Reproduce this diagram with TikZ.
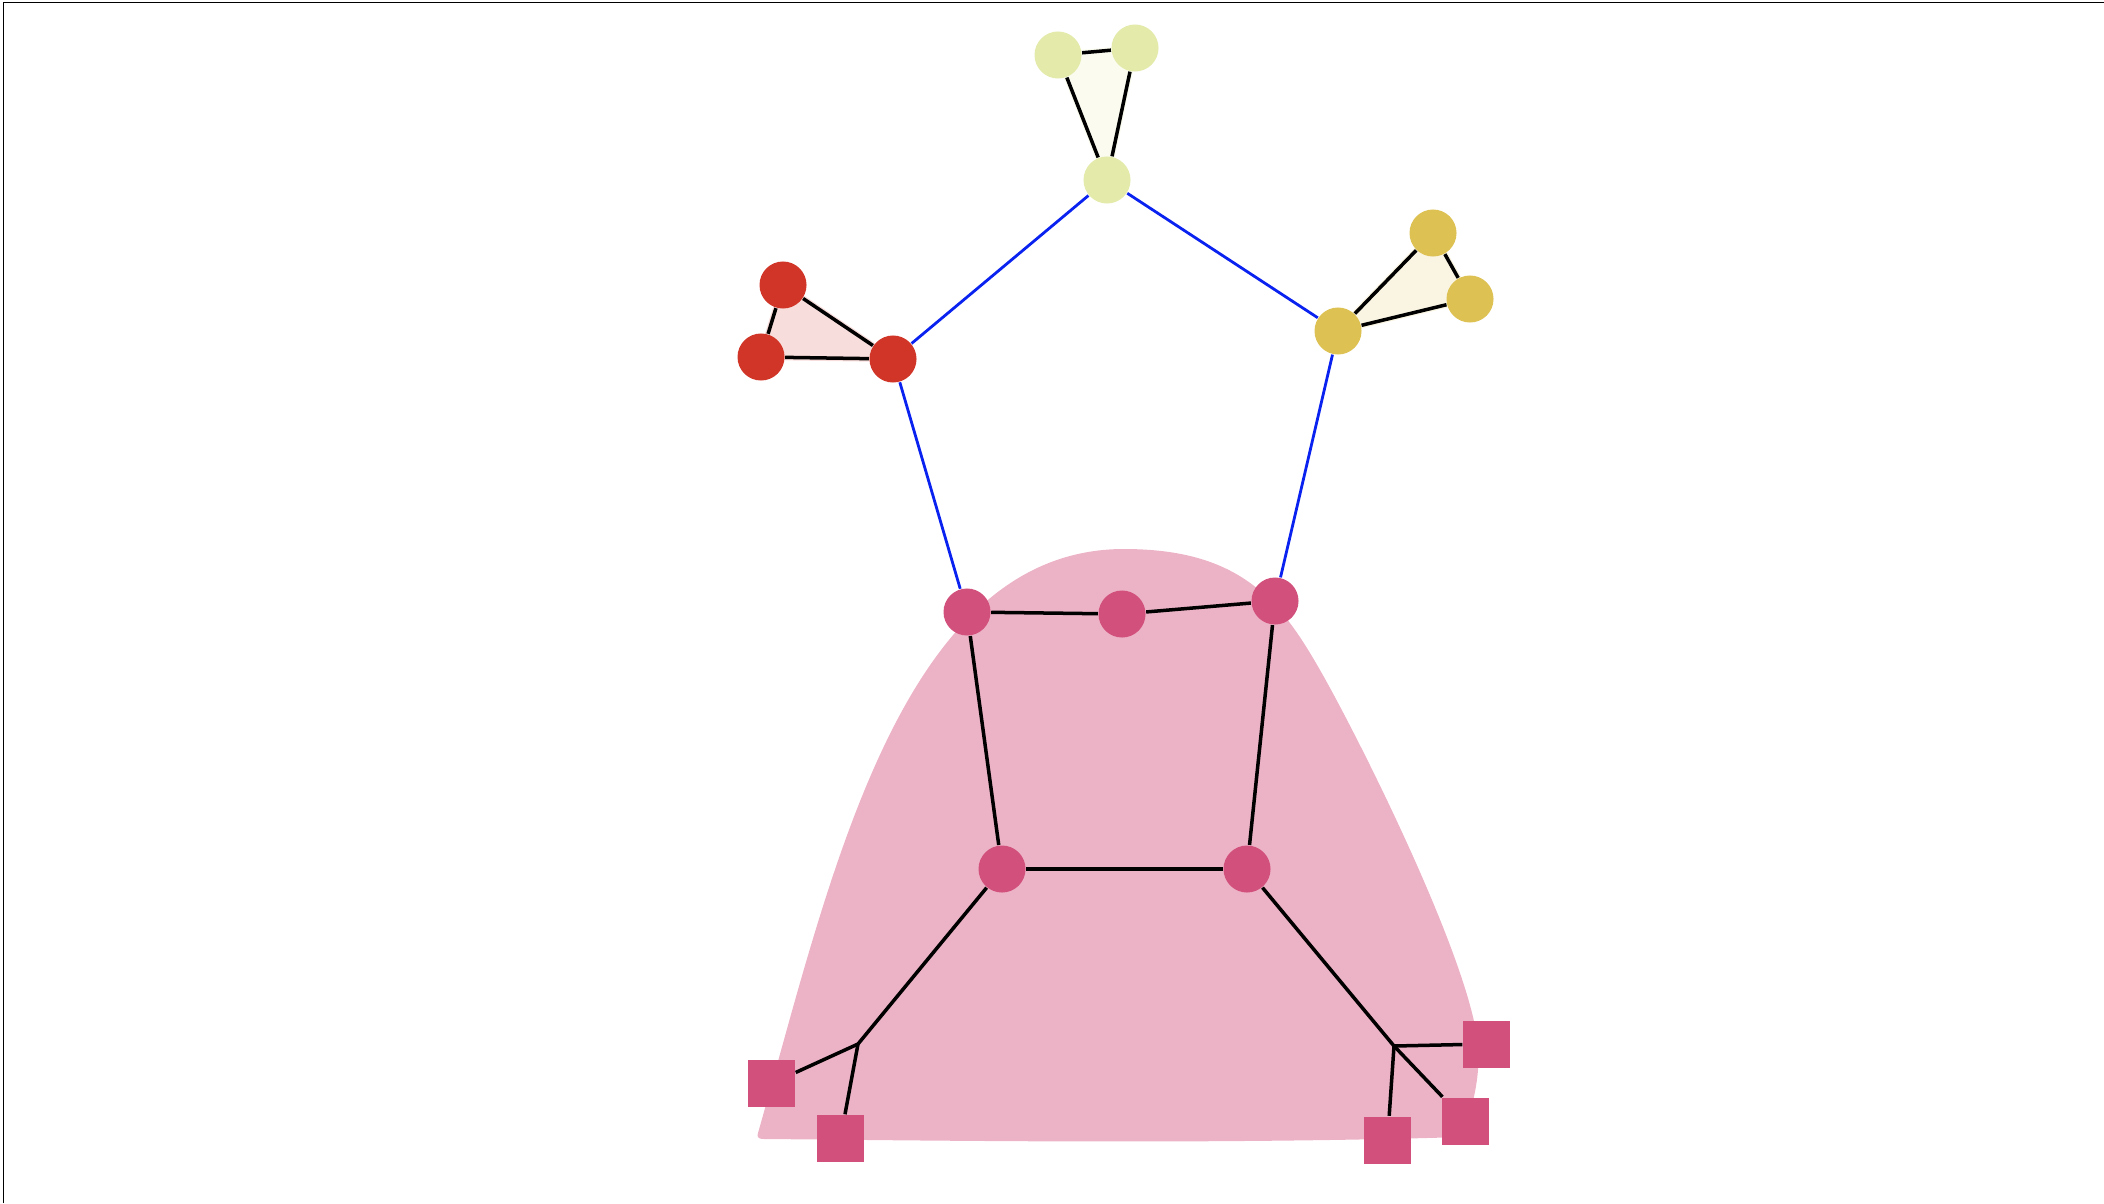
\documentclass[tikz,border=0pt]{standalone}
\begin{document}
\begin{tikzpicture}[x=0.01cm,y=-0.01cm,
  dot/.style={circle,inner sep=0pt,minimum size=0.47cm,draw=none},
  sqr/.style={rectangle,inner sep=0pt,minimum size=0.47cm,fill=pinkN,draw=none},
  blk/.style={draw=black,line width=0.035cm},
  blu/.style={draw=blueL,line width=0.028cm},
  hull/.style={line width=0.06cm,line join=round}]
\definecolor{ygN}{HTML}{E3EAAA}
\definecolor{ygF}{HTML}{FBFCEF}
\definecolor{redN}{HTML}{D13527}
\definecolor{redF}{HTML}{F7DDDB}
\definecolor{goldN}{HTML}{DDC153}
\definecolor{goldF}{HTML}{FAF5E2}
\definecolor{pinkN}{HTML}{D2517C}
\definecolor{blobC}{HTML}{ECB2C5}
\definecolor{blueL}{HTML}{0A22F0}
\useasboundingbox (0,0) rectangle (2104,1203);
\draw[line width=0.015cm] (3.5,1203) -- (3.5,2.5) -- (2104,2.5);
% blob
\fill[blobC] (758,1133) .. controls (830,880) and (900,549) .. (1124,549)
  .. controls (1240,549) and (1280,600) .. (1320,670)
  .. controls (1360,740) and (1470,960) .. (1478,1045)
  .. controls (1481,1080) and (1470,1115) .. (1462,1137)
  .. controls (1200,1145) and (900,1140) .. (764,1139)
  .. controls (757,1139) and (757,1136) .. (758,1133) -- cycle;
% coordinates of nodes
\coordinate (ya) at (1058,55);
\coordinate (yb) at (1135,48);
\coordinate (yc) at (1107,180);
\coordinate (ra) at (783,285);
\coordinate (rb) at (761,357);
\coordinate (rc) at (893,359);
\coordinate (ga) at (1433,233);
\coordinate (gb) at (1470,299);
\coordinate (gc) at (1338,331);
% hull fills
\filldraw[fill=ygF,draw=ygF,hull] (ya) -- (yb) -- (yc) -- cycle;
\filldraw[fill=redF,draw=redF,hull] (ra) -- (rb) -- (rc) -- cycle;
\filldraw[fill=goldF,draw=goldF,hull] (ga) -- (gb) -- (gc) -- cycle;
% nodes
\node[dot,fill=ygN] (Y1) at (ya) {};
\node[dot,fill=ygN] (Y2) at (yb) {};
\node[dot,fill=ygN] (Y3) at (yc) {};
\node[dot,fill=redN] (R1) at (ra) {};
\node[dot,fill=redN] (R2) at (rb) {};
\node[dot,fill=redN] (R3) at (rc) {};
\node[dot,fill=goldN] (G1) at (ga) {};
\node[dot,fill=goldN] (G2) at (gb) {};
\node[dot,fill=goldN] (G3) at (gc) {};
\node[dot,fill=pinkN] (P1) at (967,612) {};
\node[dot,fill=pinkN] (P2) at (1122,614) {};
\node[dot,fill=pinkN] (P3) at (1275,601) {};
\node[dot,fill=pinkN] (P4) at (1002,869) {};
\node[dot,fill=pinkN] (P5) at (1247,869) {};
\coordinate (JL) at (858,1044);
\coordinate (JR) at (1394,1046);
\node[sqr] (S1) at (771.5,1083.5) {};
\node[sqr] (S2) at (840.5,1138.5) {};
\node[sqr] (S3) at (1486.5,1044) {};
\node[sqr] (S4) at (1465.5,1121) {};
\node[sqr] (S5) at (1387.5,1140) {};
% edges
\draw[blk] (Y1) -- (Y2);
\draw[blk] (Y1) -- (Y3);
\draw[blk] (Y2) -- (Y3);
\draw[blk] (R1) -- (R2);
\draw[blk] (R2) -- (R3);
\draw[blk] (R1) -- (R3);
\draw[blk] (G1) -- (G2);
\draw[blk] (G1) -- (G3);
\draw[blk] (G2) -- (G3);
\draw[blu] (Y3) -- (R3);
\draw[blu] (Y3) -- (G3);
\draw[blu] (R3) -- (P1);
\draw[blu] (G3) -- (P3);
\draw[blk] (P1) -- (P2);
\draw[blk] (P2) -- (P3);
\draw[blk] (P1) -- (P4);
\draw[blk] (P3) -- (P5);
\draw[blk] (P4) -- (P5);
\draw[blk] (P4) -- (JL);
\draw[blk] (JL) -- (S1);
\draw[blk] (JL) -- (S2);
\draw[blk] (P5) -- (JR);
\draw[blk] (JR) -- (S3);
\draw[blk] (JR) -- (S4);
\draw[blk] (JR) -- (S5);
\end{tikzpicture}
\end{document}
